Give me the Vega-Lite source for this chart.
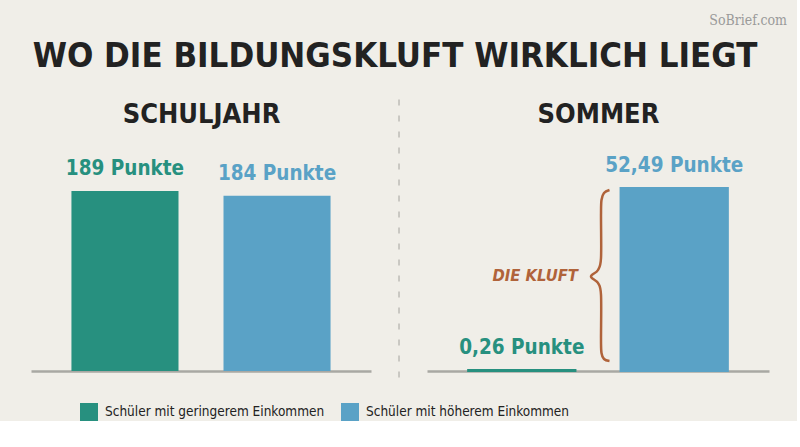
{
  "$schema": "https://vega.github.io/schema/vega-lite/v6.json",
  "background": "#f0eee8",
  "padding": {"left": 31, "top": 13, "right": 10, "bottom": 0},
  "title": {"text": "WO DIE BILDUNGSKLUFT WIRKLICH LIEGT", "fontSize": 34.5, "font": "DejaVu Sans Condensed, Roboto, sans-serif", "fontWeight": "bold", "color": "#222222", "anchor": "middle", "offset": -61, "dx": -14},
  "datasets": {
    "bars": [
      {"period": "Schuljahr", "group": "Schüler mit geringerem Einkommen", "value": 189, "label": "189 Punkte"},
      {"period": "Schuljahr", "group": "Schüler mit höherem Einkommen", "value": 184, "label": "184 Punkte"},
      {"period": "Sommer", "group": "Schüler mit geringerem Einkommen", "value": 0.26, "label": "0,26 Punkte"},
      {"period": "Sommer", "group": "Schüler mit höherem Einkommen", "value": 52.49, "label": "52,49 Punkte"}
    ],
    "brace": [
      {"i": 1, "bx": 0.5336, "by": 51.92},
      {"i": 2, "bx": 0.5175, "by": 51.06},
      {"i": 3, "bx": 0.5102, "by": 49.05},
      {"i": 4, "bx": 0.5088, "by": 44.75},
      {"i": 5, "bx": 0.5088, "by": 32.41},
      {"i": 6, "bx": 0.5, "by": 28.97},
      {"i": 7, "bx": 0.4795, "by": 27.11},
      {"i": 8, "bx": 0.5, "by": 25.24},
      {"i": 9, "bx": 0.5088, "by": 21.8},
      {"i": 10, "bx": 0.5088, "by": 8.89},
      {"i": 11, "bx": 0.5102, "by": 5.16},
      {"i": 12, "bx": 0.5175, "by": 3.44},
      {"i": 13, "bx": 0.5336, "by": 2.87}
    ],
    "divider": [{"bx": 1.0824, "by": 285.0, "by2": -9.45}],
    "kluft": [{"bx": 0.4415, "by": 27.25, "t": "DIE KLUFT"}],
    "mark": [{"bx": 1.0526, "by": 100.4, "t": "SoBrief.com"}]
  },
  "spacing": 27,
  "hconcat": [
    {
      "width": 340,
      "height": 231,
      "layer": [
        {
          "data": {"name": "bars"},
          "transform": [{"filter": "datum.period === 'Schuljahr'"}],
          "encoding": {
            "x": {"field": "group", "type": "nominal", "scale": {"paddingInner": 0.296, "paddingOuter": 0.266}, "axis": {"title": null, "labels": false, "ticks": false, "grid": false, "domain": true, "domainColor": "#a9a8a3", "domainWidth": 2.5}},
            "y": {"field": "value", "type": "quantitative", "scale": {"domain": [0, 242.55]}, "axis": null},
            "color": {"field": "group", "type": "nominal", "scale": {"domain": ["Schüler mit geringerem Einkommen", "Schüler mit höherem Einkommen"], "range": ["#27907f", "#5aa2c6"]}, "legend": {"title": null, "orient": "none", "legendX": 49, "legendY": 263, "direction": "horizontal"}}
          },
          "layer": [
            {"mark": {"type": "bar"}},
            {"mark": {"type": "text", "baseline": "bottom", "dy": -12, "fontSize": 20.5, "fontWeight": "bold"}, "encoding": {"text": {"field": "label"}}}
          ]
        },
        {
          "data": {"name": "divider"},
          "mark": {"type": "rule", "color": "#bdbcb6", "strokeWidth": 1.5, "strokeDash": [6, 10]},
          "encoding": {
            "x": {"field": "bx", "type": "quantitative", "scale": {"domain": [0, 1]}, "axis": {"orient": "top", "title": "SCHULJAHR", "labels": false, "ticks": false, "domain": false, "grid": false}},
            "y": {"field": "by", "type": "quantitative", "scale": {"domain": [0, 242.55]}, "axis": null},
            "y2": {"field": "by2"}
          }
        }
      ],
      "resolve": {"scale": {"x": "independent"}}
    },
    {
      "width": 342,
      "height": 231,
      "layer": [
        {
          "data": {"name": "bars"},
          "transform": [{"filter": "datum.period === 'Sommer'"}],
          "encoding": {
            "x": {"field": "group", "type": "nominal", "scale": {"paddingInner": 0.296, "paddingOuter": 0.27}, "axis": {"title": null, "labels": false, "ticks": false, "grid": false, "domain": true, "domainColor": "#a9a8a3", "domainWidth": 2.5}},
            "y": {"field": "value", "type": "quantitative", "scale": {"domain": [0, 66.26]}, "axis": null},
            "color": {"field": "group", "type": "nominal", "scale": {"domain": ["Schüler mit geringerem Einkommen", "Schüler mit höherem Einkommen"], "range": ["#27907f", "#5aa2c6"]}}
          },
          "layer": [
            {"mark": {"type": "bar", "strokeWidth": 2}, "encoding": {"stroke": {"field": "group", "type": "nominal", "scale": {"domain": ["Schüler mit geringerem Einkommen", "Schüler mit höherem Einkommen"], "range": ["#27907f", "#5aa2c6"]}, "legend": null}}},
            {"mark": {"type": "text", "baseline": "bottom", "dy": -12, "fontSize": 20.5, "fontWeight": "bold"}, "encoding": {"text": {"field": "label"}}}
          ]
        },
        {
          "layer": [
            {
              "data": {"name": "brace"},
              "mark": {"type": "line", "interpolate": "cardinal", "color": "#b0633a", "strokeWidth": 2.5},
              "encoding": {
                "x": {"field": "bx", "type": "quantitative", "scale": {"domain": [0, 1]}, "axis": {"orient": "top", "title": "SOMMER", "labels": false, "ticks": false, "domain": false, "grid": false}},
                "y": {"field": "by", "type": "quantitative", "scale": {"domain": [0, 66.26]}, "axis": null},
                "order": {"field": "i"}
              }
            },
            {
              "data": {"name": "kluft"},
              "mark": {"type": "text", "align": "right", "baseline": "middle", "fontSize": 16.5, "fontWeight": "bold", "fontStyle": "italic", "color": "#b0633a"},
              "encoding": {
                "x": {"field": "bx", "type": "quantitative", "scale": {"domain": [0, 1]}},
                "y": {"field": "by", "type": "quantitative", "scale": {"domain": [0, 66.26]}, "axis": null},
                "text": {"field": "t"}
              }
            },
            {
              "data": {"name": "mark"},
              "mark": {"type": "text", "align": "right", "baseline": "middle", "fontSize": 14, "font": "DejaVu Serif Condensed, Liberation Serif, serif", "color": "#9a9a9a"},
              "encoding": {
                "x": {"field": "bx", "type": "quantitative", "scale": {"domain": [0, 1]}},
                "y": {"field": "by", "type": "quantitative", "scale": {"domain": [0, 66.26]}, "axis": null},
                "text": {"field": "t"}
              }
            }
          ]
        }
      ],
      "resolve": {"scale": {"x": "independent"}}
    }
  ],
  "config": {
    "view": {"stroke": null},
    "font": "DejaVu Sans Condensed, Roboto, sans-serif",
    "axis": {"titleFont": "DejaVu Sans Condensed, Roboto, sans-serif", "titleFontWeight": "bold", "titleFontSize": 27, "titleColor": "#222222", "titlePadding": 12},
    "legend": {"symbolType": "square", "symbolSize": 324, "symbolStrokeWidth": 0, "symbolOpacity": 1, "labelFont": "DejaVu Sans Condensed, Roboto, sans-serif", "labelFontSize": 13.5, "labelColor": "#222222", "columnPadding": 16, "labelOffset": 7, "labelLimit": 400}
  }
}
